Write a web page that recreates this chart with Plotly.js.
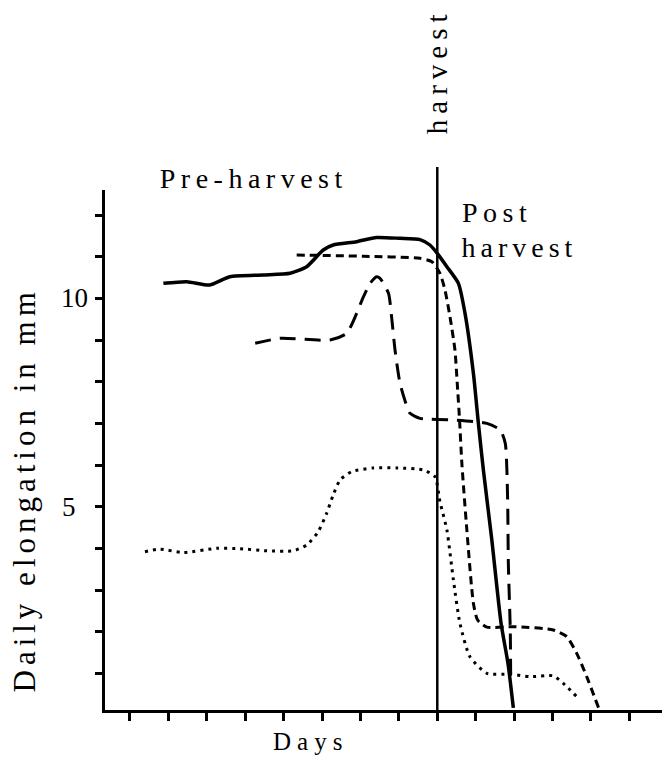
<!DOCTYPE html>
<html><head><meta charset="utf-8">
<script src="https://cdn.plot.ly/plotly-3.0.1.min.js"></script>
<style>
html,body{margin:0;padding:0;background:#fff;}
#chart{width:662px;height:757px;}
.annotation[data-index="2"] .annotation-text{letter-spacing:5.5px;}
.annotation[data-index="3"] .annotation-text{letter-spacing:5.5px;}
.annotation[data-index="4"] .annotation-text{letter-spacing:5px;}
.annotation[data-index="5"] .annotation-text{letter-spacing:6px;}
.annotation[data-index="6"] .annotation-text{letter-spacing:6px;}
.annotation[data-index="7"] .annotation-text{letter-spacing:5px;}
</style></head>
<body><div id="chart"></div>
<script>
// Solid curve
const solidDays = [0.87,1.48,2.08,2.6,3.47,4.17,4.6,5.03,5.29,5.9,6.42,7.03,7.55,7.81,8.0,8.25,8.55,8.72,8.94,9.07,9.2,9.42,9.66,9.84,9.98];
const solidVals = [10.36,10.4,10.32,10.52,10.56,10.6,10.76,11.16,11.28,11.36,11.46,11.44,11.41,11.28,11.08,10.76,10.36,9.65,8.2,7.0,5.88,4.2,2.2,1.24,0.17];
// Short-dashed curve
const shortDays = [4.34,6.08,7.55,7.86,8.07,8.2,8.33,8.46,8.52,8.58,8.64,8.77,8.94,9.05,9.29,9.98,11.02,11.37,11.63,11.89,12.2];
const shortVals = [11.04,11.01,10.96,10.88,10.6,10.2,9.56,8.76,7.96,7.08,6.04,4.44,2.68,2.28,2.11,2.12,2.04,1.88,1.48,0.92,0.17];
// Long-dashed curve
const longDays = [3.26,3.91,5.21,5.64,6.08,6.25,6.42,6.51,6.73,6.81,6.9,7.03,7.21,7.29,7.55,8.42,9.29,9.64,9.77,9.83,9.85,9.9,9.91];
const longVals = [8.92,9.04,9.0,9.16,10.04,10.36,10.52,10.48,10.12,9.56,8.76,7.96,7.4,7.24,7.12,7.08,7.0,6.84,6.52,5.24,3.64,2.04,0.94];
// Dotted curve
const dotDays = [0.39,0.78,1.39,2.26,2.86,3.56,4.25,4.6,4.9,5.12,5.29,5.47,5.77,6.34,6.95,7.64,7.94,8.07,8.25,8.42,8.59,8.85,9.29,9.9,10.42,11.02,11.28,11.63];
const dotVals = [3.92,3.98,3.9,4.0,3.99,3.94,3.94,4.08,4.4,4.84,5.28,5.64,5.84,5.93,5.93,5.88,5.72,5.12,4.44,3.24,2.2,1.4,1.0,0.98,0.92,0.94,0.76,0.44];

const xTicks = [0,1,2,3,4,5,6,7,8,9,10,11,12,13];
const yTicks = [1,2,3,4,5,6,7,8,9,10,11,12];
const yLabelVals = [10,5];
const harvestDay = 8;

const serif = 'Liberation Serif';
const spl = {shape:'spline', smoothing:0.6, color:'#000'};

const traces = [
  {x:solidDays, y:solidVals, mode:'lines', line:Object.assign({}, spl, {width:3.5, dash:'solid'}), name:'solid'},
  {x:shortDays, y:shortVals, mode:'lines', line:Object.assign({}, spl, {width:3, dash:'8px,5px'}), name:'short dash'},
  {x:longDays, y:longVals, mode:'lines', line:Object.assign({}, spl, {width:3, dash:'16px,9px'}), name:'long dash'},
  {x:dotDays, y:dotVals, mode:'lines', line:Object.assign({}, spl, {width:3, dash:'3px,5px'}), name:'dotted'}
];

const labelX = {10:74, 5:69};
const annotations = yLabelVals.map(v => ({
  text:String(v), x:(labelX[v]-105)/557, xref:'paper', y:v, yref:'y', showarrow:false,
  xanchor:'center', yanchor:'middle', font:{family:serif, size:27, color:'#000'}
}));

function pxAnn(text, px, py, size, angle){
  return {text:text, xref:'paper', yref:'paper', x:(px-105)/557, y:(710-py)/520,
    showarrow:false, xanchor:'center', yanchor:'middle', textangle:angle||0,
    font:{family:serif, size:size, color:'#000'}};
}
annotations.push(pxAnn('Pre-harvest', 254.3, 178.5, 28));
annotations.push(pxAnn('Post', 497.3, 212.5, 28));
annotations.push(pxAnn('harvest', 519.5, 247.5, 28));
annotations.push(pxAnn('harvest', 437.2, 71, 29, -90));
annotations.push(pxAnn('Days', 310.5, 741, 25));
annotations.push(pxAnn('Daily elongation in mm', 23.5, 490, 31, -90));

const layout = {
  width:662, height:757,
  margin:{l:105, r:0, t:190, b:47, pad:0},
  paper_bgcolor:'#fff', plot_bgcolor:'#fff',
  showlegend:false,
  xaxis:{range:[-0.65,13.85], tickmode:'array', tickvals:xTicks, showticklabels:false,
    ticks:'outside', ticklen:8, tickwidth:3, tickcolor:'#000',
    showline:true, linewidth:3, linecolor:'#000', showgrid:false, zeroline:false},
  yaxis:{range:[0.12,12.6], tickmode:'array', tickvals:yTicks, showticklabels:false,
    ticks:'outside', ticklen:7, tickwidth:3, tickcolor:'#000',
    showline:true, linewidth:3, linecolor:'#000', showgrid:false, zeroline:false},
  shapes:[{type:'line', xref:'x', yref:'paper', x0:harvestDay, x1:harvestDay, y0:0, y1:1.044,
    line:{color:'#000', width:2.5}}],
  annotations:annotations
};

Plotly.newPlot('chart', traces, layout, {staticPlot:true, displayModeBar:false});
</script>
</body></html>
